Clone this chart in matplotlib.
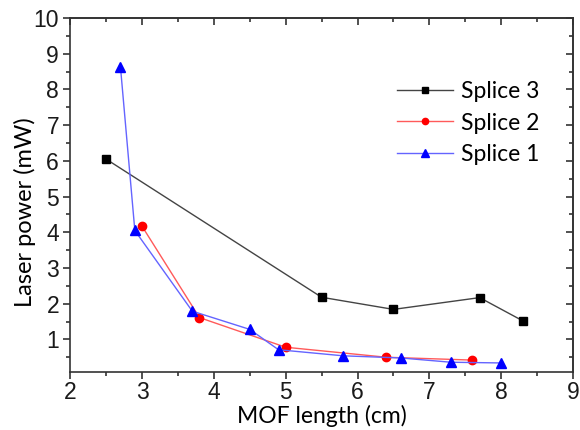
import matplotlib.pyplot as plt
from matplotlib.ticker import MultipleLocator

# MOF length (cm) vs laser power (mW) for three splices
s3_len = [2.5, 5.5, 6.5, 7.7, 8.3]
s3_pow = [6.05, 2.18, 1.84, 2.17, 1.52]

s2_len = [3.0, 3.8, 5.0, 6.4, 7.6]
s2_pow = [4.17, 1.61, 0.78, 0.50, 0.42]

s1_len = [2.7, 2.9, 3.7, 4.5, 4.9, 5.8, 6.6, 7.3, 8.0]
s1_pow = [8.63, 4.05, 1.79, 1.28, 0.71, 0.54, 0.48, 0.36, 0.34]

fig = plt.figure(figsize=(5.8, 4.3), dpi=100)
ax = fig.add_axes([0.121, 0.136, 0.867, 0.822])

ax.plot(s3_len, s3_pow, color="#444444", lw=1, marker="s", ms=5.5,
        mfc="black", mec="black", label="Splice 3")
ax.plot(s2_len, s2_pow, color="#ff5a5a", lw=1, marker="o", ms=6,
        mfc="red", mec="red", label="Splice 2")
ax.plot(s1_len, s1_pow, color="#6464ff", lw=1, marker="^", ms=7,
        mfc="blue", mec="blue", label="Splice 1")

ax.set_xlim(2, 9)
ax.set_ylim(0.1, 10)
ax.xaxis.set_major_locator(MultipleLocator(1))
ax.xaxis.set_minor_locator(MultipleLocator(0.5))
ax.set_yticks(range(1, 11))
ax.yaxis.set_minor_locator(MultipleLocator(0.5))

axis_col = "#333333"
for s in ax.spines.values():
    s.set_linewidth(1.2)
    s.set_color(axis_col)

ax.tick_params(which="both", direction="out", top=False, right=False,
               color=axis_col, width=1.2, labelcolor="#1a1a1a")
ax.tick_params(which="major", length=5, labelsize=16.5)
ax.tick_params(axis="y", which="major", pad=3)
ax.tick_params(axis="x", which="major", pad=2)
ax.tick_params(which="minor", length=3)
for lab in ax.get_xticklabels() + ax.get_yticklabels():
    lab.set_family("Liberation Sans")

# mirrored ticks pointing inward on top and right
sec_x = ax.secondary_xaxis("top")
sec_x.xaxis.set_major_locator(MultipleLocator(1))
sec_x.xaxis.set_minor_locator(MultipleLocator(0.5))
sec_x.tick_params(which="both", direction="in", labeltop=False, color=axis_col, width=1.2)
sec_x.tick_params(which="major", length=5)
sec_x.tick_params(which="minor", length=3)
sec_y = ax.secondary_yaxis("right")
sec_y.yaxis.set_major_locator(MultipleLocator(1))
sec_y.yaxis.set_minor_locator(MultipleLocator(0.5))
sec_y.tick_params(which="both", direction="in", labelright=False, color=axis_col, width=1.2)
sec_y.tick_params(which="major", length=5)
sec_y.tick_params(which="minor", length=3)
for s in list(sec_x.spines.values()) + list(sec_y.spines.values()):
    s.set_linewidth(1.2)
    s.set_color(axis_col)

ax.set_xlabel("MOF length (cm)", family="Lato", fontsize=16.5)
ax.set_ylabel("Laser power (mW)", family="Lato", fontsize=17)
ax.xaxis.set_label_coords(0.5, -0.095)
ax.yaxis.set_label_coords(-0.067, 0.45)

ax.legend(loc="center left", bbox_to_anchor=(397 / 580, 1 - 123 / 430),
          bbox_transform=fig.transFigure, frameon=False,
          prop={"family": "Lato", "size": 16.5}, handlelength=2.45,
          handletextpad=0.35, labelspacing=0.45, markerscale=0.75,
          borderpad=0, borderaxespad=0)

fig.savefig("out.png", dpi=100)
